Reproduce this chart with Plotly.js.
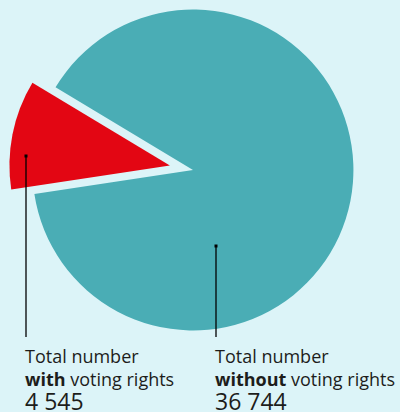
<!DOCTYPE html>
<html><head><meta charset="utf-8">
<script src="https://cdn.plot.ly/plotly-3.0.1.min.js"></script>
<style>
html,body{margin:0;padding:0;background:#dcf4f8;overflow:hidden;width:400px;height:412px;}
#chart{position:absolute;left:0;top:-30px;width:400px;height:442px;}
</style>
</head><body><div id="chart"></div>
<script>
// Data
const categories = ['with', 'without'];
const values = [4545, 36744];
const valueLabels = ['4 545', '36 744'];
const labelLine1 = ['Total number', 'Total number'];
const labelLine2 = ['<b>with</b> voting rights', '<b>without</b> voting rights'];
const colors = ['#e30613', '#4aadb5'];
const pulls = [0.147, 0];

// Layout geometry (pixels in the page)
const OFFSET = 30, W = 400, H = 442;
const M = {l: 9, r: 23, t: 16, b: 58};
const PW = W - M.l - M.r, PH = H - M.t - M.b;
const px = x => (x - M.l) / PW;
const py = y => (H - M.b - (y + OFFSET)) / PH;

const bg = '#dcf4f8';
const textColor = '#1d1d1b';
const FONT = '"Open Sans", "Noto Sans", sans-serif';

// leader lines: [x, top y, bottom y] in page px, text x
const leaders = [
  {x: 26, y0: 156, y1: 337, tx: 23},
  {x: 216, y0: 246, y1: 337, tx: 213}
];

const shapes = [];
const annotations = [];
leaders.forEach((L, i) => {
  shapes.push({type: 'line', xref: 'paper', yref: 'paper',
    x0: px(L.x), x1: px(L.x), y0: py(L.y0), y1: py(L.y1),
    line: {color: '#000', width: 1.3}});
  shapes.push({type: 'rect', xref: 'paper', yref: 'paper',
    x0: px(L.x - 1.5), x1: px(L.x + 1.5), y0: py(L.y0 - 1.5), y1: py(L.y0 + 1.5),
    fillcolor: '#000', line: {width: 0}});
  annotations.push({xref: 'paper', yref: 'paper', x: px(L.tx), y: py(342),
    xanchor: 'left', yanchor: 'top', align: 'left', showarrow: false,
    text: labelLine1[i] + '<br>' + labelLine2[i] +
          '<br><span style="font-size:23px">' + valueLabels[i] + '</span>',
    font: {family: FONT, size: 18, color: textColor}});
});

const trace = {
  type: 'pie',
  labels: categories,
  values: values,
  marker: {colors: colors, line: {width: 0}},
  pull: pulls,
  sort: false,
  direction: 'counterclockwise',
  rotation: -98.6,
  textinfo: 'none',
  hoverinfo: 'skip',
  showlegend: false
};

Plotly.newPlot('chart', [trace], {
  width: W, height: H,
  margin: M,
  paper_bgcolor: bg, plot_bgcolor: bg,
  showlegend: false,
  shapes: shapes,
  annotations: annotations
}, {staticPlot: true, displayModeBar: false});
</script>
</body></html>
